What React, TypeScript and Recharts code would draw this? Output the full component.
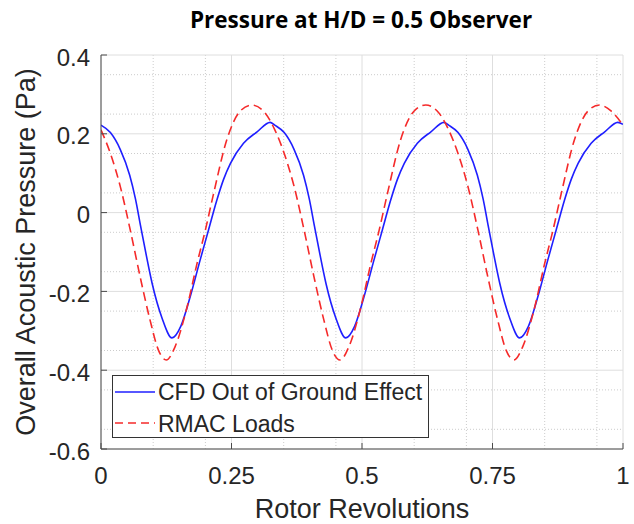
import React from 'react';
import { LineChart, Line, XAxis, YAxis, CartesianGrid, Legend } from 'recharts';

// ---- data ----
const blueX = [
  0, 0.018, 0.037, 0.055, 0.066, 0.076, 0.087, 0.098, 0.117, 0.136, 0.153, 0.171, 0.19, 0.206, 0.222, 0.235, 0.248, 0.273, 0.299, 0.324,
  0.333, 0.351, 0.37, 0.388, 0.399, 0.409, 0.42, 0.431, 0.45, 0.469, 0.486, 0.504, 0.523, 0.539, 0.555, 0.568, 0.581, 0.606, 0.632, 0.657,
  0.666, 0.684, 0.703, 0.721, 0.732, 0.742, 0.753, 0.764, 0.783, 0.802, 0.819, 0.837, 0.856, 0.872, 0.888, 0.901, 0.914, 0.939, 0.965, 0.99,
  1.0,
];
const blueY = [
  0.222, 0.203, 0.16, 0.095, 0.035, -0.035, -0.11, -0.18, -0.268, -0.318, -0.288, -0.213, -0.12, -0.044, 0.032, 0.085, 0.125, 0.176, 0.205, 0.229,
  0.222, 0.203, 0.16, 0.095, 0.035, -0.035, -0.11, -0.18, -0.268, -0.318, -0.288, -0.213, -0.12, -0.044, 0.032, 0.085, 0.125, 0.176, 0.205, 0.229,
  0.222, 0.203, 0.16, 0.095, 0.035, -0.035, -0.11, -0.18, -0.268, -0.318, -0.288, -0.213, -0.12, -0.044, 0.032, 0.085, 0.125, 0.176, 0.205, 0.229,
  0.224,
];
const redX = [
  0, 0.018, 0.037, 0.056, 0.075, 0.094, 0.11, 0.125, 0.142, 0.165, 0.184, 0.2, 0.216, 0.241, 0.267, 0.289, 0.311,
  0.333, 0.351, 0.37, 0.389, 0.408, 0.427, 0.443, 0.458, 0.475, 0.498, 0.517, 0.533, 0.549, 0.574, 0.6, 0.622, 0.644,
  0.666, 0.684, 0.703, 0.722, 0.741, 0.76, 0.776, 0.791, 0.808, 0.831, 0.85, 0.866, 0.882, 0.907, 0.933, 0.955, 0.977,
  1.0,
];
const redY = [
  0.21, 0.15, 0.066, -0.044, -0.163, -0.273, -0.349, -0.374, -0.34, -0.239, -0.129, -0.044, 0.05, 0.185, 0.258, 0.273, 0.258,
  0.21, 0.15, 0.066, -0.044, -0.163, -0.273, -0.349, -0.374, -0.34, -0.239, -0.129, -0.044, 0.05, 0.185, 0.258, 0.273, 0.258,
  0.21, 0.15, 0.066, -0.044, -0.163, -0.273, -0.349, -0.374, -0.34, -0.239, -0.129, -0.044, 0.05, 0.185, 0.258, 0.273, 0.258,
  0.222,
];

const xTicks = [0, 0.25, 0.5, 0.75, 1];
const xTickLabels = ['0', '0.25', '0.5', '0.75', '1'];
const yTicks = [-0.6, -0.4, -0.2, 0, 0.2, 0.4];
const yTickLabels = ['-0.6', '-0.4', '-0.2', '0', '0.2', '0.4'];
const xMinor = [0.05, 0.1, 0.15, 0.2, 0.3, 0.35, 0.4, 0.45, 0.55, 0.6, 0.65, 0.7, 0.8, 0.85, 0.9, 0.95];
const yMinor = [-0.55, -0.5, -0.45, -0.35, -0.3, -0.25, -0.15, -0.1, -0.05, 0.05, 0.1, 0.15, 0.25, 0.3, 0.35];

const seriesNames = ['CFD Out of Ground Effect', 'RMAC Loads'];
const seriesColors = ['#1f1fff', '#f52a2a'];
const seriesDash = [undefined, '9 5'];
const title = 'Pressure at H/D = 0.5 Observer';
const xTitle = 'Rotor Revolutions';
const yTitle = 'Overall Acoustic Pressure (Pa)';

const blueData = blueX.map((x, i) => ({ x, y: blueY[i] }));
const redData = redX.map((x, i) => ({ x, y: redY[i] }));

const AXIS = '#4a4a4a';
const TEXT = '#262626';
const FONT = '"Liberation Sans", Arial, sans-serif';

const fmtX = (v: number) => {
  const i = xTicks.indexOf(v);
  return i >= 0 ? xTickLabels[i] : String(v);
};
const fmtY = (v: number) => {
  const i = yTicks.findIndex((t) => Math.abs(t - v) < 1e-9);
  return i >= 0 ? yTickLabels[i] : String(v);
};

const renderLegend = () => (
  <svg width={318} height={64} style={{ display: 'block' }}>
    <rect x={0.5} y={0.5} width={316} height={62} fill="#ffffff" stroke="#333333" strokeWidth={1} />
    {seriesNames.map((name, i) => (
      <g key={name}>
        <line
          x1={3}
          x2={43}
          y1={17 + i * 31}
          y2={17 + i * 31}
          stroke={seriesColors[i]}
          strokeWidth={1.6}
          strokeDasharray={seriesDash[i] ? '8 5' : undefined}
        />
        <text x={46} y={25 + i * 31.5} fontSize={23} fill={TEXT} fontFamily={FONT}>
          {name}
        </text>
      </g>
    ))}
  </svg>
);

export default function App() {
  return (
    <div style={{ position: 'absolute', left: 0, top: 0, width: 634, height: 524, background: '#fff' }}>
      <svg width={634} height={40} style={{ position: 'absolute', left: 0, top: 0 }}>
        <text
          x={361}
          y={28}
          textAnchor="middle"
          fontFamily="'Open Sans', Lato, sans-serif"
          fontWeight={700}
          fontSize={22.5}
          fill="#000"
        >
          {title}
        </text>
      </svg>
      <div style={{ position: 'absolute', left: 0, top: 0 }}>
        <LineChart width={634} height={524} margin={{ top: 55, right: 11, bottom: 0, left: 0 }}>
          <CartesianGrid
            horizontalValues={yMinor}
            verticalValues={xMinor}
            stroke="#cccccc"
            strokeDasharray="1 2"
          />
          <CartesianGrid horizontalValues={yTicks} verticalValues={xTicks} stroke="#dedede" />
          <XAxis
            dataKey="x"
            type="number"
            domain={[0, 1]}
            ticks={xTicks}
            tickFormatter={fmtX}
            allowDataOverflow
            height={75}
            tickSize={-6}
            tickMargin={24}
            axisLine={{ stroke: AXIS }}
            tickLine={{ stroke: AXIS }}
            tick={{ fill: TEXT, fontSize: 24, fontFamily: FONT }}
            label={{
              value: xTitle,
              position: 'insideBottom',
              offset: 6,
              style: { fill: TEXT, fontSize: 27, fontFamily: FONT },
            }}
          />
          <XAxis
            xAxisId="top"
            orientation="top"
            type="number"
            domain={[0, 1]}
            ticks={xTicks}
            height={0}
            tickSize={-6}
            tick={false}
            axisLine={{ stroke: AXIS }}
            tickLine={{ stroke: AXIS }}
          />
          <YAxis
            type="number"
            domain={[-0.6, 0.4]}
            ticks={yTicks}
            tickFormatter={fmtY}
            allowDataOverflow
            width={101}
            tickSize={-6}
            tickMargin={17}
            axisLine={{ stroke: AXIS }}
            tickLine={{ stroke: AXIS }}
            tick={{ fill: TEXT, fontSize: 24, fontFamily: FONT, dy: 2 }}
            label={{
              value: yTitle,
              angle: -90,
              position: 'insideLeft',
              offset: 25,
              style: { textAnchor: 'middle', fill: TEXT, fontSize: 27, fontFamily: FONT },
            }}
          />
          <YAxis
            yAxisId="right"
            orientation="right"
            type="number"
            domain={[-0.6, 0.4]}
            ticks={yTicks}
            width={0}
            tickSize={-6}
            tick={false}
            axisLine={{ stroke: AXIS }}
            tickLine={{ stroke: AXIS }}
          />
          <Line
            data={blueData}
            dataKey="y"
            name={seriesNames[0]}
            type="monotone"
            stroke={seriesColors[0]}
            strokeWidth={1.6}
            dot={false}
            activeDot={false}
            isAnimationActive={false}
          />
          <Line
            data={redData}
            dataKey="y"
            name={seriesNames[1]}
            type="monotone"
            stroke={seriesColors[1]}
            strokeWidth={1.6}
            strokeDasharray={seriesDash[1]}
            dot={false}
            activeDot={false}
            isAnimationActive={false}
          />
          <Legend
            layout="horizontal"
            verticalAlign="middle"
            align="center"
            content={renderLegend}
            wrapperStyle={{ left: 112, top: 375, width: 318, height: 64 }}
          />
        </LineChart>
      </div>
    </div>
  );
}
